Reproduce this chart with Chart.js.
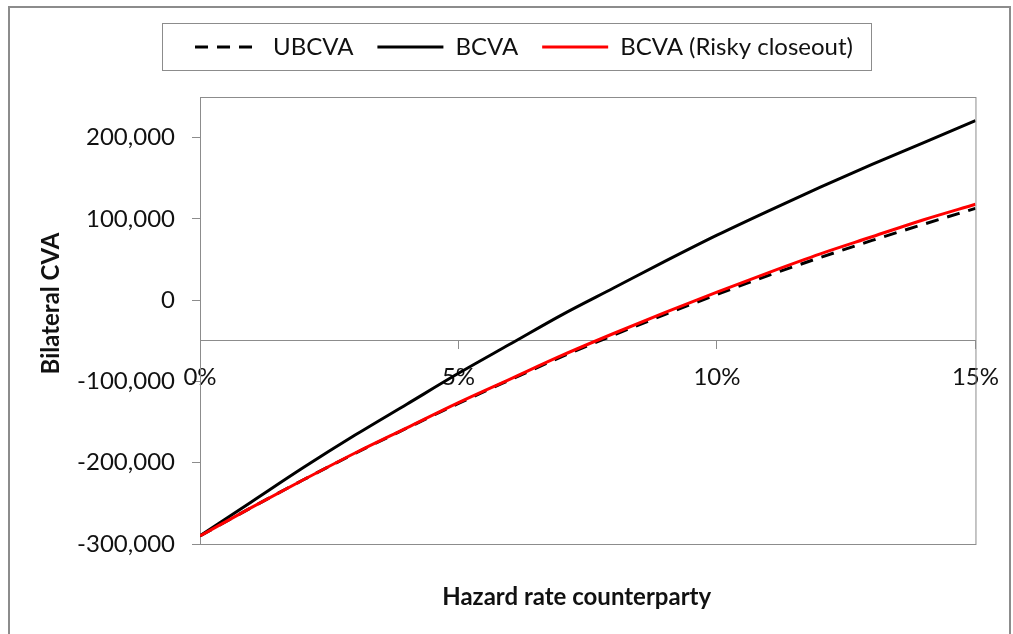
<!DOCTYPE html>
<html>
<head>
<meta charset="utf-8">
<script src="https://cdn.jsdelivr.net/npm/chart.js@4.4.1/dist/chart.umd.min.js"></script>
<style>
  html, body { margin: 0; padding: 0; background: #fff; }
  #wrap { width: 1013px; height: 634px; }
</style>
</head>
<body>
<div id="wrap"><canvas id="chart" width="1013" height="634"></canvas></div>
<script>
// Bilateral CVA against the counterparty hazard rate (in %).
const hazardRates = [0, 1, 2, 3, 4, 5, 6, 7, 8, 9, 10, 11, 12, 13, 14, 15];
const ubcva     = [-290000, -255000, -221000, -188500, -157500, -127000, -98000, -69500, -43000, -17500, 7000, 30500, 52500, 73500, 93500, 113000];
const bcva      = [-290000, -248000, -206000, -166000, -128000, -90000, -54000, -18000, 15000, 48000, 80000, 110000, 139000, 167000, 194000, 221000];
const bcvaRisky = [-290000, -255000, -221000, -188000, -157000, -126000, -97000, -68000, -41000, -15000, 10000, 34000, 57000, 78000, 99000, 118000];

const seriesNames = ['UBCVA', 'BCVA', 'BCVA (Risky closeout)'];
const xTicks = [0, 5, 10, 15];
const yTicks = [-300000, -200000, -100000, 0, 100000, 200000];
const xTitle = 'Hazard rate counterparty';
const yTitle = 'Bilateral CVA';

const FONT = 'Lato, "Open Sans", sans-serif';
const GREY = '#8c8c8c';
const INK = '#111';

function pts(ys) { return hazardRates.map((x, i) => ({ x, y: ys[i] })); }

// frame, plot border, legend box and axis titles (Excel look)
const excelFrame = {
  id: 'excelFrame',
  beforeInit(chart) {
    const fit = chart.legend.fit;
    chart.legend.fit = function () { fit.call(this); this.height += 28; };
  },
  beforeDraw(chart) {
    const { ctx, width, height } = chart;
    ctx.save();
    ctx.fillStyle = '#fff';
    ctx.fillRect(0, 0, width, height);
    ctx.strokeStyle = GREY;
    ctx.lineWidth = 2;
    ctx.strokeRect(9, 7, width - 12, height + 10);
    ctx.restore();
  },
  beforeDatasetsDraw(chart) {
    const { ctx, chartArea: a } = chart;
    ctx.save();
    ctx.strokeStyle = GREY;
    ctx.lineWidth = 1;
    ctx.strokeRect(a.left + 0.5, a.top + 0.5, a.right - a.left, a.bottom - a.top);
    ctx.restore();
  },
  afterDraw(chart) {
    const { ctx, chartArea: a } = chart;
    const hb = chart.legend.legendHitBoxes;
    ctx.save();
    if (hb && hb.length) {
      const first = hb[0], last = hb[hb.length - 1];
      ctx.strokeStyle = GREY;
      ctx.lineWidth = 1;
      const l = Math.round(first.left - 33) + 0.5, t = Math.round(first.top - 12) + 0.5;
      const r = Math.round(last.left + last.width + 18) + 0.5, b = Math.round(first.top + first.height + 11) + 0.5;
      ctx.strokeRect(l, t, r - l, b - t);
    }
    ctx.fillStyle = INK;
    ctx.font = 'bold 24px ' + FONT;
    ctx.textAlign = 'center';
    ctx.textBaseline = 'middle';
    ctx.fillText(xTitle, (a.left + a.right) / 2 - 11, a.bottom + 53);
    ctx.translate(a.left - 149, (a.top + a.bottom) / 2 - 17);
    ctx.rotate(-Math.PI / 2);
    ctx.fillText(yTitle, 0, 0);
    ctx.restore();
  }
};

new Chart(document.getElementById('chart').getContext('2d'), {
  type: 'line',
  data: {
    datasets: [
      { label: seriesNames[0], data: pts(ubcva), borderColor: '#000', backgroundColor: '#000',
        borderWidth: 3, borderDash: [13, 9], order: 2 },
      { label: seriesNames[1], data: pts(bcva), borderColor: '#000', backgroundColor: '#000',
        borderWidth: 3, order: 1 },
      { label: seriesNames[2], data: pts(bcvaRisky), borderColor: '#ff0000', backgroundColor: '#ff0000',
        borderWidth: 3, order: 0 },
    ],
  },
  options: {
    responsive: false,
    animation: false,
    devicePixelRatio: 1,
    layout: { padding: { left: 72, right: 37, top: 11, bottom: 90 } },
    elements: { point: { radius: 0 }, line: { cubicInterpolationMode: 'monotone', fill: false } },
    plugins: {
      tooltip: { enabled: false },
      legend: {
        position: 'top',
        labels: {
          usePointStyle: true, pointStyle: 'line', pointStyleWidth: 66,
          padding: 24, color: INK, font: { family: FONT, size: 24 },
          sort: (a, b) => a.datasetIndex - b.datasetIndex,
          generateLabels: chart => Chart.defaults.plugins.legend.labels.generateLabels(chart).map(item => {
            const ds = chart.data.datasets[item.datasetIndex];
            item.lineDash = ds.borderDash || [];
            item.lineWidth = 3;
            item.strokeStyle = ds.borderColor;
            return item;
          }),
        },
      },
    },
    scales: {
      x: {
        type: 'linear', min: 0, max: 15,
        position: { y: -50000 },
        afterBuildTicks: s => { s.ticks = xTicks.map(v => ({ value: v })); },
        grid: { drawOnChartArea: false, tickLength: 8, color: GREY },
        border: { color: GREY },
        ticks: { color: INK, font: { family: FONT, size: 24 }, padding: 14, maxRotation: 0, autoSkip: false,
                 callback: v => v + '%' },
      },
      y: {
        type: 'linear', min: -300000, max: 250000,
        afterBuildTicks: s => { s.ticks = yTicks.map(v => ({ value: v })); },
        afterFit: s => { s.width = 128; },
        grid: { drawOnChartArea: false, tickLength: 8, color: GREY },
        border: { color: GREY },
        ticks: { color: INK, font: { family: FONT, size: 24 }, padding: 17,
                 callback: v => v.toLocaleString('en-US') },
      },
    },
  },
  plugins: [excelFrame],
});
</script>
</body>
</html>
